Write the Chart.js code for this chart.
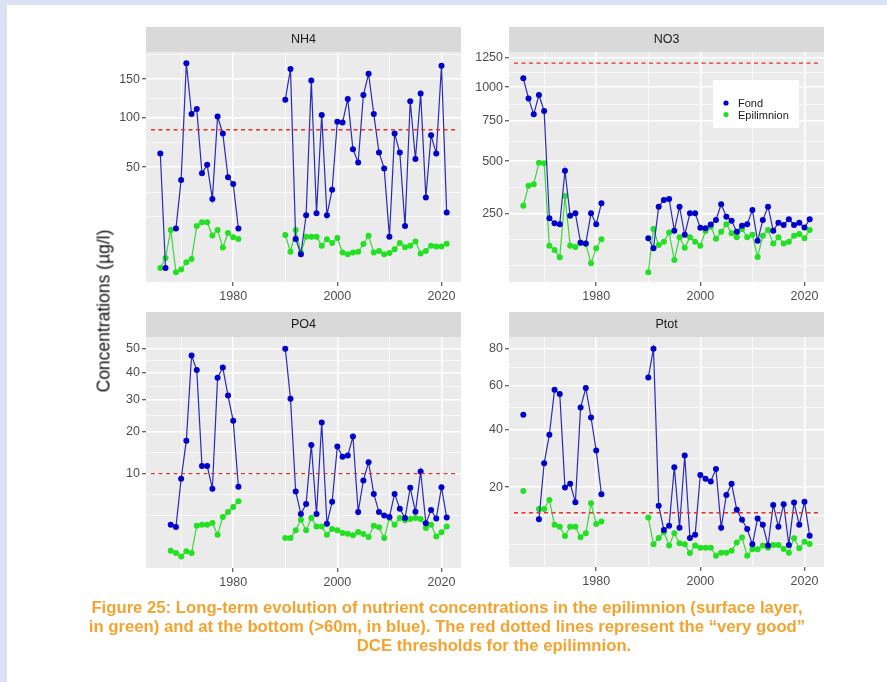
<!DOCTYPE html>
<html>
<head>
<meta charset="utf-8">
<script src="https://cdn.jsdelivr.net/npm/chart.js@4.4.0/dist/chart.umd.min.js"></script>
<style>
  body { margin: 0; width: 887px; height: 682px; overflow: hidden; position: relative; background: #fff;
         font-family: "Liberation Sans", Arial, sans-serif; }
  .band-top { position: absolute; left: 0; top: 0; width: 887px; height: 5px; background: #dae3f3; }
  .band-left { position: absolute; left: 0; top: 0; width: 7px; height: 682px; background: #dae3f3; }
  canvas { position: absolute; }
  .ylab { position: absolute; left: 104px; top: 311px; transform: translate(-50%, -50%) rotate(-90deg);
          font-size: 17.5px; color: #111; white-space: nowrap; }
  .cap { position: absolute; color: #f3a32e; font-weight: bold; font-size: 16.7px; line-height: 19px; white-space: nowrap;
         transform: translateX(-50%); }
</style>
</head>
<body>
<div class="band-top"></div>
<div class="band-left"></div>
<canvas id="c0"></canvas>
<canvas id="c1"></canvas>
<canvas id="c2"></canvas>
<canvas id="c3"></canvas>
<div class="ylab">Concentrations (µg/l)</div>
<div class="cap" style="left:447px;top:598px">Figure 25: Long-term evolution of nutrient concentrations in the epilimnion (surface layer,</div>
<div class="cap" style="left:447px;top:617px">in green) and at the bottom (&gt;60m, in blue). The red dotted lines represent the “very good”</div>
<div class="cap" style="left:494px;top:636px">DCE thresholds for the epilimnion.</div>
<script>
// Years sampled (gap 1982-1989)
const years = [1966, 1967, 1968, 1969, 1970, 1971, 1972, 1973, 1974, 1975, 1976, 1977, 1978, 1979, 1980, 1981,
  1990, 1991, 1992, 1993, 1994, 1995, 1996, 1997, 1998, 1999, 2000, 2001, 2002, 2003, 2004, 2005,
  2006, 2007, 2008, 2009, 2010, 2011, 2012, 2013, 2014, 2015, 2016, 2017, 2018, 2019, 2020, 2021];

// NH4 (µg/l)
const nh4Fond = [62, 1.3, null, 12, 40, 174, 104, 110, 45, 52, 27, 101, 82, 42, 37, 12,
  122, 165, 8.1, 3.8, 18, 148, 19, 103, 18, 33, 95, 94, 123, 66, 54, 128,
  158, 104, 63, 49, 8.9, 82, 63, 13, 120, 57, 130, 28, 80, 62, 170, 19.4];
const nh4Epi = [1.3, 3, 11.4, 0.8, 1.1, 2.2, 2.8, 13, 14.7, 14.7, 9.3, 11.4, 5.5, 10.2, 8.7, 8.1,
  9.5, 4.4, 11.4, 4.2, 8.9, 8.9, 8.9, 6.0, 8.0, 6.8, 8.4, 4.2, 3.8, 4.2, 4.4, 6.5,
  9.2, 4.2, 4.6, 3.8, 4.1, 5.0, 6.8, 5.6, 6.0, 7.3, 4.0, 4.6, 6.0, 5.8, 5.8, 6.6];

// NO3 (µg/l)
const no3Fond = [1071, 913, 796, 939, 820, 231, 212, 209, 447, 240, 250, 147, 145, 250, 209, 291,
  161, 131, 277, 306, 310, 186, 277, 172, 250, 250, 196, 194, 208, 224, 287, 237,
  221, 182, 203, 209, 263, 153, 224, 277, 186, 214, 206, 227, 206, 214, 197, 227];
const no3Epi = [281, 371, 378, 491, 488, 138, 126, 106, 323, 138, 134, 148, 143, 91, 131, 158,
  71, 192, 140, 150, 180, 99, 164, 132, 164, 150, 138, 185, 200, 159, 182, 209,
  177, 164, 192, 164, 172, 107, 169, 188, 145, 164, 145, 150, 169, 175, 161, 188];

// PO4 (µg/l)
const po4Fond = [null, null, 2.45, 2.23, 9.0, 17.6, 47, 41, 11.6, 11.6, 7.25, 38, 42, 31.4, 23.2, 7.6,
  50, 30.3, 6.8, 3.6, 4.9, 16.5, 3.6, 22.7, 2.55, 5.2, 16.1, 13.6, 13.9, 18.7, 3.85, 8.7,
  12.4, 6.4, 3.85, 3.45, 3.27, 6.4, 4.27, 3.15, 7.4, 3.9, 10.45, 2.6, 4.1, 3.1, 7.5, 3.2];
const po4Epi = [null, null, 0.57, 0.46, 0.33, 0.54, 0.46, 2.36, 2.45, 2.45, 2.62, 1.57, 3.27, 3.85, 4.5, 5.3,
  1.32, 1.32, 1.93, 2.97, 1.93, 3.15, 2.29, 2.29, 1.57, 2.05, 1.93, 1.71, 1.65, 1.52, 1.79, 1.63,
  1.4, 2.36, 2.2, 1.32, 3.15, 2.45, 3.15, 2.9, 3.04, 3.15, 3.04, 2.14, 2.45, 1.44, 1.76, 2.29];

// Ptot (µg/l)
const ptotFond = [46.4, null, null, 11.8, 27.5, 38, 58, 56, 19.9, 21, 15.9, 49.6, 58.9, 45.2, 32, 18,
  64.2, 80, 15, 9.55, 10.4, 26.2, 10, 30.2, 8, 8.6, 23.7, 22.5, 21.7, 25.6, 10, 17.8,
  21, 14, 11.7, 9.75, 6.9, 12, 10.6, 6.7, 15.2, 10.2, 15.4, 6.8, 15.8, 10.6, 16, 8.45];
const ptotEpi = [18.9, null, null, 14.2, 14.2, 16.5, 10.6, 10.2, 8.4, 10.2, 10.2, 8.15, 8.9, 15.6, 10.8, 11.3,
  12.2, 6.9, 8, 9.1, 6.7, 8.9, 7.1, 6.9, 5.5, 6.7, 6.35, 6.35, 6.35, 5.1, 5.56, 5.56,
  5.87, 7.2, 8.1, 5.1, 6.1, 6.1, 6.7, 6.35, 6.8, 6.8, 6.13, 5.56, 7.96, 6.25, 7.36, 6.96];

// Panels, axis ticks, thresholds
const panelNames = ['NH4', 'NO3', 'PO4', 'Ptot'];
const fondSeries = [nh4Fond, no3Fond, po4Fond, ptotFond];
const epiSeries = [nh4Epi, no3Epi, po4Epi, ptotEpi];
const yTickLabels = [[50, 100, 150], [250, 500, 750, 1000, 1250], [10, 20, 30, 40, 50], [20, 40, 60, 80]];
const yLimits = [[0.1, 191.8], [51.9, 1298], [0.045, 55.3], [3.59, 86.9]];
const thresholds = [86, 1200, 10, 13.3];
const xTickLabels = [1980, 2000, 2020];
const xLimits = [1963.25, 2023.75];

// where each panel (plot area) sits on the page
const areas = [
  { l: 146, t: 52, r: 461, b: 282 },
  { l: 509, t: 52, r: 824, b: 282 },
  { l: 146, t: 337, r: 461, b: 568 },
  { l: 509, t: 337, r: 824, b: 567 }
];

const BLUE = '#0000cd', BLUE_LINE = '#2a2ab8';
const GREEN = '#22e022', GREEN_LINE = '#3ad83a';
const FONT = '"Liberation Sans", Arial, sans-serif';

// square-root axis, like scale_y_sqrt in ggplot
class SqrtScale extends Chart.LinearScale {
  getPixelForValue(value) {
    if (value === null || value === undefined) return NaN;
    const lo = Math.sqrt(this.min), hi = Math.sqrt(this.max);
    return this.getPixelForDecimal((Math.sqrt(value) - lo) / (hi - lo));
  }
  getValueForPixel(pixel) {
    const lo = Math.sqrt(this.min), hi = Math.sqrt(this.max);
    const s = lo + this.getDecimalForPixel(pixel) * (hi - lo);
    return s * s;
  }
}
SqrtScale.id = 'sqrt';
SqrtScale.defaults = Chart.LinearScale.defaults;
Chart.register(SqrtScale);

// major + minor breaks (ggplot style: minor halfway between majors in transformed space)
function gridTicks(major, lim, f, inv) {
  const b = major.map(f);
  const lo = f(lim[0]), hi = f(lim[1]);
  const bd = b[1] - b[0];
  if (lo < b[0]) b.unshift(b[0] - bd);
  if (hi > b[b.length - 1]) b.push(b[b.length - 1] + bd);
  const out = [];
  for (let i = 0; i < b.length - 1; i++) out.push(b[i], (b[i] + b[i + 1]) / 2);
  out.push(b[b.length - 1]);
  return out.filter(s => s >= lo && s <= hi).map(s => {
    const v = inv(s);
    const m = major.find(mv => Math.abs(mv - v) < 1e-6 * Math.max(1, Math.abs(mv)));
    return { value: m !== undefined ? m : v, isMajor: m !== undefined };
  });
}

function toPoints(vals) {
  const pts = [];
  years.forEach((yr, i) => {
    if (i > 0 && yr - years[i - 1] > 1) pts.push({ x: (yr + years[i - 1]) / 2, y: null });
    pts.push({ x: yr, y: vals[i] });
  });
  return pts;
}

const panelPlugin = {
  id: 'panel',
  beforeDraw(chart, args, opts) {
    const { ctx, chartArea: a } = chart;
    ctx.save();
    ctx.fillStyle = '#ebebeb';
    ctx.fillRect(a.left, a.top, a.right - a.left, a.bottom - a.top);
    ctx.fillStyle = '#d9d9d9';
    ctx.fillRect(a.left, a.top - 25, a.right - a.left, 25);
    ctx.fillStyle = '#1a1a1a';
    ctx.font = '12.5px ' + FONT;
    ctx.textAlign = 'center';
    ctx.textBaseline = 'middle';
    ctx.fillText(opts.title, (a.left + a.right) / 2, a.top - 12);
    ctx.restore();
  },
  afterDatasetsDraw(chart, args, opts) {
    const { ctx, chartArea: a } = chart;
    const y = chart.scales.y.getPixelForValue(opts.threshold);
    ctx.save();
    ctx.strokeStyle = '#e0342f';
    ctx.lineWidth = 1.3;
    ctx.setLineDash([4, 3.5]);
    ctx.beginPath();
    ctx.moveTo(a.left + 5, y);
    ctx.lineTo(a.right - 5, y);
    ctx.stroke();
    ctx.setLineDash([]);
    if (opts.legend) {
      const lx = a.left + 204, ly = a.top + 28;
      ctx.fillStyle = '#fff';
      ctx.fillRect(lx, ly, 86, 48);
      ctx.font = '11px ' + FONT;
      ctx.textAlign = 'left';
      ctx.textBaseline = 'middle';
      chart.data.datasets.forEach((ds, k) => {
        const cy = ly + 23 + k * 11.5;
        ctx.fillStyle = ds.pointBackgroundColor;
        ctx.beginPath();
        ctx.arc(lx + 13, cy, 2.6, 0, Math.PI * 2);
        ctx.fill();
        ctx.fillStyle = '#1a1a1a';
        ctx.fillText(ds.label, lx + 25, cy + 1);
      });
    }
    ctx.restore();
  }
};

function gridWidth(c) { return c.tick && c.tick.isMajor ? 1.5 : 0.7; }
function tickCol(c) { return c.tick && c.tick.isMajor ? '#333333' : 'rgba(0,0,0,0)'; }

panelNames.forEach((name, i) => {
  const a = areas[i];
  const cv = document.getElementById('c' + i);
  const w = a.r - a.l + 63, h = a.b - a.t + 62;
  cv.width = w; cv.height = h;
  cv.style.left = (a.l - 56) + 'px';
  cv.style.top = (a.t - 30) + 'px';
  cv.style.width = w + 'px';
  cv.style.height = h + 'px';

  const xTicks = gridTicks(xTickLabels, xLimits, v => v, s => s);
  const yTicks = gridTicks(yTickLabels[i], yLimits[i], Math.sqrt, s => s * s);

  new Chart(cv, {
    type: 'line',
    data: {
      datasets: [
        { label: 'Fond', data: toPoints(fondSeries[i]), borderColor: BLUE_LINE, borderWidth: 1.2,
          pointBackgroundColor: BLUE, pointBorderColor: BLUE, pointRadius: 3, pointBorderWidth: 0, tension: 0 },
        { label: 'Epilimnion', data: toPoints(epiSeries[i]), borderColor: GREEN_LINE, borderWidth: 1.2,
          pointBackgroundColor: GREEN, pointBorderColor: GREEN, pointRadius: 3, pointBorderWidth: 0, tension: 0 }
      ]
    },
    options: {
      responsive: false,
      animation: false,
      devicePixelRatio: 1,
      layout: { padding: { top: 30, right: 7, left: 0, bottom: 0 } },
      plugins: {
        legend: { display: false },
        tooltip: { enabled: false },
        panel: { title: name, threshold: thresholds[i], legend: i === 1 }
      },
      scales: {
        x: {
          type: 'linear', min: xLimits[0], max: xLimits[1], bounds: 'data',
          afterBuildTicks: s => { s.ticks = xTicks.map(t => ({ ...t })); },
          afterFit: s => { s.height = 32; },
          grid: { color: '#ffffff', lineWidth: gridWidth, tickLength: 4, tickColor: tickCol, tickWidth: 1 },
          border: { display: false },
          ticks: { autoSkip: false, maxRotation: 0, padding: 3, color: '#4d4d4d', font: { size: 12.5, family: FONT },
                   callback: (v, k, t) => t[k].isMajor ? String(v) : '' }
        },
        y: {
          type: 'sqrt', min: yLimits[i][0], max: yLimits[i][1], bounds: 'data',
          afterBuildTicks: s => { s.ticks = yTicks.map(t => ({ ...t })); },
          afterFit: s => { s.width = 56; },
          grid: { color: '#ffffff', lineWidth: gridWidth, tickLength: 4, tickColor: tickCol, tickWidth: 1 },
          border: { display: false },
          ticks: { autoSkip: false, padding: 2, color: '#4d4d4d', font: { size: 12.5, family: FONT },
                   callback: (v, k, t) => t[k].isMajor ? String(v) : '' }
        }
      }
    },
    plugins: [panelPlugin]
  });
});
</script>
</body>
</html>
